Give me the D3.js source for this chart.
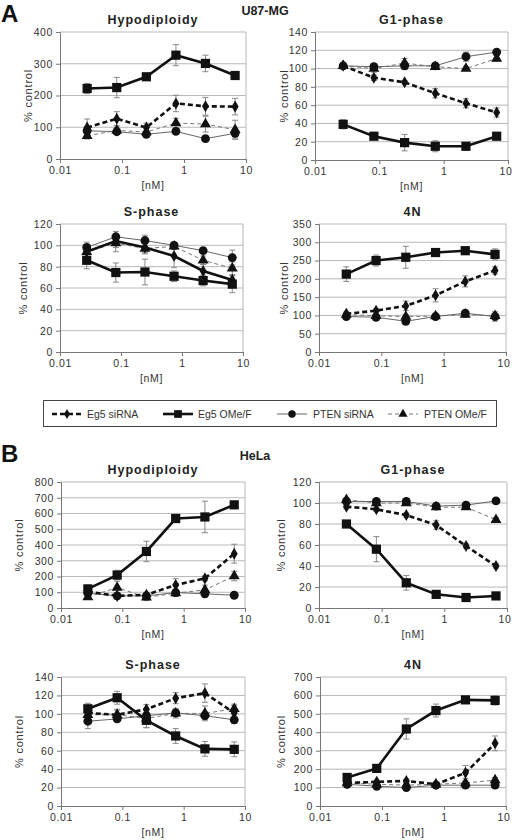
<!DOCTYPE html>
<html><head><meta charset="utf-8">
<script src="https://cdn.jsdelivr.net/npm/d3@7"></script>
<style>body{margin:0;background:#fff}svg{display:block}text{font-family:"Liberation Sans",Arial,sans-serif}</style>
</head><body><svg id="c" width="512" height="840"></svg>
<script>
// concentrations [nM]
const conc = [0.0274, 0.0823, 0.247, 0.741, 2.22, 6.67];
const seriesNames = ["Eg5 siRNA", "Eg5 OMe/F", "PTEN siRNA", "PTEN OMe/F"];
const xTicks = [0.01, 0.1, 1, 10];

// each: [Eg5 siRNA, Eg5 OMe/F, PTEN siRNA, PTEN OMe/F]
const aHypoVals = [[99,127,99,175,166,165],[222,225,259,327,301,263],[89,86,78,87,64,81],[73,90,85,113,110,92]];
const aHypoErr  = [[27,22,14,26,28,26],[16,32,5,33,26,5],[5,5,5,5,5,15],[10,10,10,15,25,30]];
const aG1Vals = [[103,90,85,73,62,52],[39,26,19,15,15,26],[103,102,103,103,113,118],[103,100,106,102,100,111]];
const aG1Err  = [[3,3,2,5,5,5],[5,2,9,6,2,2],[3,3,4,2,5,2],[3,4,5,2,2,3]];
const aSVals = [[94,104,98,90,76,67.6],[86,74.5,75,71,67,63.6],[98,108,104.5,100,95,88.5],[94,102,97,99,86,78.5]];
const aSErr  = [[5,6,5,11,6,4],[8,9,12,5,5,8],[5,5,5,3,2,7],[5,8,5,3,4,6]];
const a4NVals = [[104.5,113,126,155,193,223],[213,250,259,272,277,267],[97,95,84,97,106,97],[102,99,97,98,102,99]];
const a4NErr  = [[5,5,13,18,15,10],[20,15,30,5,5,15],[5,5,5,5,5,13],[5,5,5,5,5,5]];
const bHypoVals = [[104,77,84,146,188,345],[121,209,359,568,578,655],[94,77,77,98,90,81],[69,130,67,94,115,203]];
const bHypoErr  = [[20,20,10,40,15,60],[25,30,65,10,100,20],[10,10,10,20,20,10],[10,40,20,20,30,30]];
const bG1Vals = [[96.5,94,88.5,79,59,40],[80,56,24,13,10,11.5],[101.5,101.5,101.5,97,98,102],[103,100,100,96,96,84]];
const bG1Err  = [[2,2,2,4,2,2],[1,12,7,2,1,1],[2,2,2,2,2,2],[2,2,2,2,2,2]];
const bSVals = [[101,99,105,117,122.5,101],[105.5,117.5,93,76,62,61.5],[92,94.5,98,101,98,93.5],[99,99,95,100.5,100.5,105.5]];
const bSErr  = [[5,6,5,6,10,8],[6,7,8,8,8,8],[8,3,5,4,4,4],[5,5,10,5,8,5]];
const b4NVals = [[125,131,136,118,180,340],[155,204,418,518,576,573],[118,107,100,113,113,113],[125,118,113,118,125,140]];
const b4NErr  = [[10,10,10,10,40,40],[15,15,55,35,10,25],[10,10,10,10,10,10],[10,10,10,10,25,15]];

const panels = [
  {title:"Hypodiploidy", l:60, r:246, t:32, b:159, ymax:400, step:100, vals:aHypoVals, errs:aHypoErr, yl:28},
  {title:"G1-phase", l:315, r:508, t:32, b:160, ymax:140, step:20, vals:aG1Vals, errs:aG1Err, yl:27},
  {title:"S-phase", l:60, r:243, t:224, b:352, ymax:120, step:20, vals:aSVals, errs:aSErr, yl:33, solidSi:true},
  {title:"4N", l:319, r:506, t:224, b:352, ymax:350, step:50, vals:a4NVals, errs:a4NErr, yl:31},
  {title:"Hypodiploidy", l:61, r:245, t:482, b:608, ymax:800, step:100, vals:bHypoVals, errs:bHypoErr, yl:38},
  {title:"G1-phase", l:319, r:507, t:482, b:608, ymax:120, step:20, vals:bG1Vals, errs:bG1Err, yl:34},
  {title:"S-phase", l:61, r:245, t:677, b:806, ymax:140, step:20, vals:bSVals, errs:bSErr, yl:38},
  {title:"4N", l:320, r:506, t:677, b:806, ymax:700, step:100, vals:b4NVals, errs:b4NErr, yl:35}
];

const styles = [
  {w:2.6, dash:"5,3", color:"#111", sym:d3.symbolDiamond, size:42},
  {w:2.6, dash:null, color:"#111", sym:d3.symbolSquare, size:85},
  {w:1, dash:null, color:"#666", sym:d3.symbolCircle, size:62},
  {w:1, dash:"4,3", color:"#777", sym:d3.symbolTriangle, size:52}
];
const drawOrder = [3,2,0,1];

const svg = d3.select("#c");
const txt = "#333";

function drawPanel(p){
  const x = d3.scaleLog().domain([0.01,10]).range([p.l,p.r]);
  const y = d3.scaleLinear().domain([0,p.ymax]).range([p.b,p.t]);
  const g = svg.append("g");
  const yt = d3.range(0, p.ymax + p.step/2, p.step);
  g.selectAll(".gr").data(yt.filter(v=>v>0)).enter().append("line")
    .attr("x1",p.l).attr("x2",p.r).attr("y1",d=>y(d)).attr("y2",d=>y(d))
    .attr("stroke","#b8b8b8").attr("stroke-width",1);
  g.append("line").attr("x1",p.r).attr("x2",p.r).attr("y1",p.t).attr("y2",p.b).attr("stroke","#b8b8b8");
  const ya = d3.axisLeft(y).tickValues(yt).tickSize(4).tickPadding(3).tickFormat(d3.format("d"));
  const ax = g.append("g").attr("transform",`translate(${p.l},0)`).call(ya);
  const xa = d3.axisBottom(x).tickValues(xTicks).tickSize(4).tickPadding(4).tickFormat(d=>String(d));
  const bx = g.append("g").attr("transform",`translate(0,${p.b})`).call(xa);
  [ax,bx].forEach(a=>{
    a.select(".domain").attr("stroke","#777");
    a.selectAll(".tick line").attr("stroke","#777");
    a.selectAll("text").attr("fill",txt).attr("font-size",10.5).attr("font-family","Liberation Sans, Arial, sans-serif").style("letter-spacing","0.6px");
  });
  bx.selectAll(".tick text").filter(d=>d===10 && p.r>500).attr("text-anchor","end").attr("dx","4");
  g.append("text").attr("x",(p.l+p.r)/2).attr("y",p.t-8).attr("text-anchor","middle")
    .attr("font-size",12.5).attr("font-weight","bold").style("letter-spacing","1px").attr("fill","#222").text(p.title);
  g.append("text").attr("x",(p.l+p.r)/2).attr("y",p.b+30).attr("text-anchor","middle")
    .attr("font-size",10.5).style("letter-spacing","0.6px").attr("fill",txt).text("[nM]");
  g.append("text").attr("transform",`translate(${p.l-p.yl},${(p.t+p.b)/2}) rotate(-90)`)
    .attr("text-anchor","middle").attr("font-size",11).style("letter-spacing","0.8px").attr("fill",txt).text("% control");
  drawOrder.forEach(si=>{
    const eg = g.append("g").attr("stroke","#888").attr("stroke-width",1);
    conc.forEach((c,i)=>{
      const v = p.vals[si][i], e = p.errs[si][i];
      const cx = x(c);
      eg.append("line").attr("x1",cx).attr("x2",cx).attr("y1",y(v-e)).attr("y2",y(v+e));
      eg.append("line").attr("x1",cx-3).attr("x2",cx+3).attr("y1",y(v-e)).attr("y2",y(v-e));
      eg.append("line").attr("x1",cx-3).attr("x2",cx+3).attr("y1",y(v+e)).attr("y2",y(v+e));
    });
  });
  const line = d3.line().x((d,i)=>x(conc[i])).y(d=>y(d));
  drawOrder.forEach(si=>{
    const st = styles[si];
    const dash = (si===0 && p.solidSi) ? null : st.dash;
    g.append("path").attr("d",line(p.vals[si])).attr("fill","none")
      .attr("stroke",st.color).attr("stroke-width",st.w).attr("stroke-dasharray",dash);
    g.selectAll(null).data(p.vals[si]).enter().append("path")
      .attr("transform",(d,i)=>`translate(${x(conc[i])},${y(d)})`)
      .attr("d",d3.symbol().type(st.sym).size(st.size)).attr("fill","#111");
  });
}
panels.forEach(drawPanel);

svg.append("text").attr("x",1).attr("y",22).attr("font-size",24).attr("font-weight","bold").attr("fill","#111").text("A");
svg.append("text").attr("x",1).attr("y",462).attr("font-size",24).attr("font-weight","bold").attr("fill","#111").text("B");
svg.append("text").attr("x",265).attr("y",15).attr("text-anchor","middle").attr("font-size",12.5).attr("font-weight","bold").attr("fill","#222").text("U87-MG");
svg.append("text").attr("x",255).attr("y",460).attr("text-anchor","middle").attr("font-size",12.5).attr("font-weight","bold").attr("fill","#222").text("HeLa");

const lg = svg.append("g");
lg.append("rect").attr("x",43.5).attr("y",400.5).attr("width",453).attr("height",26).attr("fill","none").attr("stroke","#444").attr("stroke-width",1);
const legX = [52,163,277,388];
seriesNames.forEach((n,si)=>{
  const st = styles[si], x0 = legX[si], yy = 414;
  lg.append("line").attr("x1",x0).attr("x2",x0+30).attr("y1",yy).attr("y2",yy)
    .attr("stroke",st.color).attr("stroke-width",st.w).attr("stroke-dasharray",st.dash);
  lg.append("path").attr("transform",`translate(${x0+15},${yy})`)
    .attr("d",d3.symbol().type(st.sym).size(st.size*0.7)).attr("fill","#111");
  lg.append("text").attr("x",x0+(si>=2?36:35)).attr("y",yy+4).attr("font-size",10.5).attr("fill",txt).text(n);
});
</script></body></html>
